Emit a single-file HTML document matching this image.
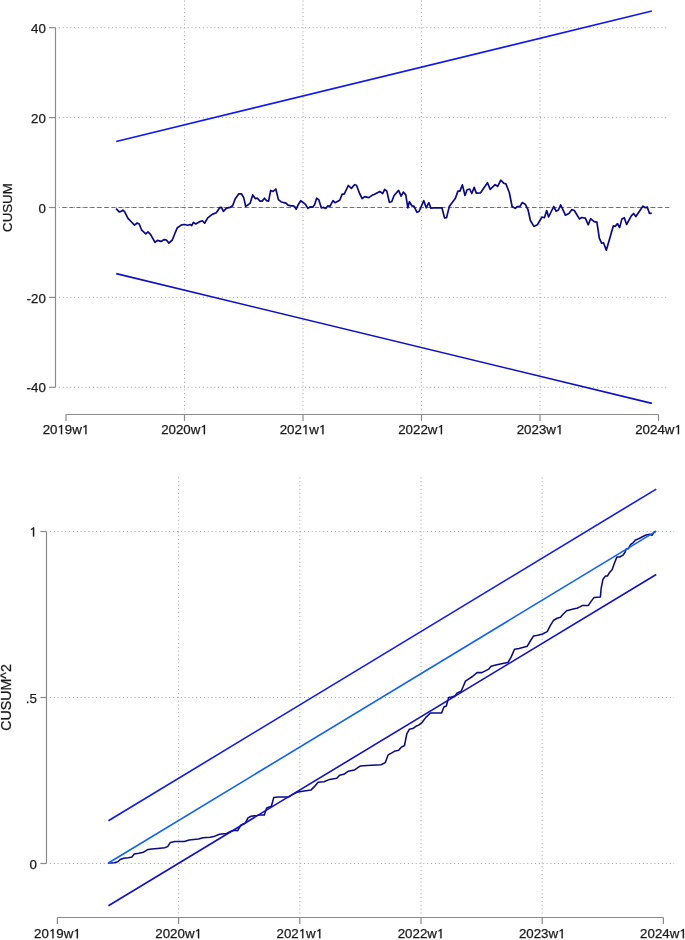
<!DOCTYPE html><html><head><meta charset="utf-8"><style>html,body{margin:0;padding:0;background:#fff;}svg{display:block;will-change:transform;}text{font-family:"Liberation Sans",sans-serif;font-size:13.3px;fill:#1a1a1a;stroke:#1a1a1a;stroke-width:0.25px;}.g1{fill:#1a1a1a;stroke:#1a1a1a;stroke-width:0.2px;}</style></head><body>
<svg width="685" height="940" viewBox="0 0 685 940">
<rect width="685" height="940" fill="#fff"/>
<g stroke="#a0a0a0" stroke-width="1" stroke-dasharray="1 2.85" fill="none"><line x1="184.46" y1="0.56" x2="184.46" y2="411" /><line x1="302.97" y1="0.56" x2="302.97" y2="411" /><line x1="421.48" y1="0.56" x2="421.48" y2="411" /><line x1="539.99" y1="0.56" x2="539.99" y2="411" /><line x1="58.9" y1="27.70" x2="666.2" y2="27.70" stroke-dasharray="1 2.789"/><line x1="58.9" y1="117.60" x2="666.2" y2="117.60" stroke-dasharray="1 2.789"/><line x1="58.9" y1="207.50" x2="666.2" y2="207.50" stroke-dasharray="1 2.789"/><line x1="58.9" y1="297.40" x2="666.2" y2="297.40" stroke-dasharray="1 2.789"/><line x1="58.9" y1="387.30" x2="666.2" y2="387.30" stroke-dasharray="1 2.789"/></g>
<line x1="62.3" y1="207.5" x2="669.2" y2="207.5" stroke="#707070" stroke-width="1.2" stroke-dasharray="4.2 2.81"/>
<g stroke="#8a8a8a" stroke-width="1.2" fill="none" stroke-linecap="butt"><line x1="55.5" y1="27.7" x2="55.5" y2="387.3"/><line x1="49" y1="27.7" x2="55.5" y2="27.7"/><line x1="49" y1="117.6" x2="55.5" y2="117.6"/><line x1="49" y1="207.5" x2="55.5" y2="207.5"/><line x1="49" y1="297.4" x2="55.5" y2="297.4"/><line x1="49" y1="387.3" x2="55.5" y2="387.3"/><line x1="66.0" y1="414.5" x2="658.5" y2="414.5"/><line x1="66.0" y1="414.5" x2="66.0" y2="420.9"/><line x1="184.5" y1="414.5" x2="184.5" y2="420.9"/><line x1="303.0" y1="414.5" x2="303.0" y2="420.9"/><line x1="421.5" y1="414.5" x2="421.5" y2="420.9"/><line x1="540.0" y1="414.5" x2="540.0" y2="420.9"/><line x1="658.5" y1="414.5" x2="658.5" y2="420.9"/></g>
<text x="31.01 38.41" y="32.80">40</text><text x="31.01 38.41" y="122.70">20</text><text x="38.41" y="212.60">0</text><text x="26.58 31.01 38.41" y="302.50">-20</text><text x="26.58 31.01 38.41" y="392.40">-40</text><text x="42.66 50.06 64.85 72.24" y="434.30">209w</text><path class="g1" d="M62.12,434.30 L62.12,424.95 L61.11,424.95 L60.71,425.59 L58.85,426.65 L58.85,427.58 L60.88,426.85 L60.88,434.30Z"/><path class="g1" d="M86.51,434.30 L86.51,424.95 L85.50,424.95 L85.10,425.59 L83.24,426.65 L83.24,427.58 L85.27,426.85 L85.27,434.30Z"/><text x="161.17 168.57 175.96 183.36 190.75" y="434.30">2020w</text><path class="g1" d="M205.02,434.30 L205.02,424.95 L204.01,424.95 L203.61,425.59 L201.75,426.65 L201.75,427.58 L203.78,426.85 L203.78,434.30Z"/><text x="279.68 287.08 294.47 309.26" y="434.30">202w</text><path class="g1" d="M306.53,434.30 L306.53,424.95 L305.52,424.95 L305.12,425.59 L303.26,426.65 L303.26,427.58 L305.30,426.85 L305.30,434.30Z"/><path class="g1" d="M323.53,434.30 L323.53,424.95 L322.52,424.95 L322.12,425.59 L320.26,426.65 L320.26,427.58 L322.29,426.85 L322.29,434.30Z"/><text x="398.19 405.59 412.98 420.38 427.77" y="434.30">2022w</text><path class="g1" d="M442.04,434.30 L442.04,424.95 L441.03,424.95 L440.63,425.59 L438.77,426.65 L438.77,427.58 L440.80,426.85 L440.80,434.30Z"/><text x="516.70 524.10 531.49 538.89 546.28" y="434.30">2023w</text><path class="g1" d="M560.55,434.30 L560.55,424.95 L559.54,424.95 L559.14,425.59 L557.28,426.65 L557.28,427.58 L559.31,426.85 L559.31,434.30Z"/><text x="635.21 642.61 650.00 657.40 664.79" y="434.30">2024w</text><path class="g1" d="M679.06,434.30 L679.06,424.95 L678.05,424.95 L677.65,425.59 L675.79,426.65 L675.79,427.58 L677.82,426.85 L677.82,434.30Z"/><text transform="translate(11.65,207.6) rotate(-90)" text-anchor="middle">CUSUM</text>
<polyline points="116.1,208.7 119.2,211.8 121.2,211.4 122.9,210.2 124.7,211.8 128.0,218.3 131.5,222.0 134.5,225.1 137.2,223.0 139.2,224.0 141.7,230.2 145.8,233.9 148.0,231.8 150.5,234.3 155.0,242.4 157.4,240.4 161.1,241.4 164.2,239.6 166.4,240.0 168.9,243.1 172.3,240.0 175.0,233.2 177.4,227.7 181.5,224.9 184.6,224.5 187.7,225.3 190.3,224.5 191.7,225.7 193.4,222.4 195.8,224.0 199.9,221.6 202.4,220.8 204.6,223.2 207.7,217.9 212.2,214.4 216.3,212.8 219.7,207.7 221.4,207.3 223.4,211.4 226.5,208.1 230.2,207.3 232.6,205.7 235.1,199.1 238.8,193.8 241.4,193.8 243.7,197.6 245.7,206.4 248.2,204.7 250.2,203.1 252.7,194.9 255.3,198.6 257.4,198.2 260.0,201.1 262.1,201.1 264.5,198.2 266.6,200.7 268.6,201.1 270.7,190.4 273.1,191.5 275.8,189.0 278.4,199.6 280.9,201.7 283.9,202.7 286.0,203.1 288.0,205.2 291.1,205.8 293.5,205.8 294.8,206.8 296.2,209.2 298.2,204.7 300.7,200.7 303.4,202.7 305.4,204.3 307.9,208.4 310.5,206.8 312.6,207.2 314.6,204.7 316.6,198.2 318.7,199.6 321.3,207.8 323.8,207.4 325.8,208.4 327.9,205.8 329.9,206.4 333.0,200.7 335.0,202.7 339.7,200.2 342.2,194.1 344.2,194.1 348.3,185.5 351.4,188.4 354.5,184.7 356.5,185.3 359.6,193.5 362.2,198.6 364.7,196.6 368.8,197.6 372.8,194.9 374.1,194.5 379.8,191.5 382.7,193.5 384.7,189.4 386.8,191.1 389.4,202.3 391.7,201.7 394.1,195.5 398.6,190.4 401.1,196.2 403.3,192.1 405.8,194.9 407.8,207.8 409.4,201.7 411.9,205.8 413.9,206.2 417.0,212.3 419.0,211.5 423.8,200.7 426.2,207.8 428.9,202.7 430.9,208.2 433.4,207.8 441.9,207.8 444.6,218.0 446.6,217.6 449.3,206.4 455.4,198.2 457.9,191.1 459.9,191.1 462.4,184.9 465.0,195.5 467.1,189.8 469.7,189.0 471.8,193.5 474.2,187.4 476.3,193.1 480.4,192.9 487.5,182.7 490.2,189.4 495.1,184.7 497.7,186.3 500.8,180.2 503.9,183.3 505.9,183.9 509.3,192.5 512.1,206.5 515.2,208.4 517.5,206.5 519.9,206.5 522.2,202.6 525.2,204.2 528.0,209.6 530.4,220.5 533.9,226.4 537.4,224.8 542.0,217.0 544.4,217.7 546.7,210.5 548.6,217.0 553.7,206.5 556.1,211.2 558.4,210.0 560.7,204.9 565.4,215.2 568.9,213.5 571.9,209.6 574.3,210.5 579.4,218.9 581.8,217.5 585.3,218.2 588.3,224.8 590.6,218.7 594.1,221.7 596.9,222.2 599.3,238.1 601.6,243.2 603.5,242.7 606.3,250.2 613.3,225.9 615.2,226.4 617.5,223.6 619.6,227.6 621.9,218.9 624.3,217.7 626.6,224.5 631.3,215.9 633.6,213.5 635.9,216.6 643.0,206.1 645.3,207.7 647.2,207.0 649.5,213.5 651.8,213.1" fill="none" stroke="#0a0a88" stroke-width="1.7" stroke-linejoin="round"/>
<line x1="116.2" y1="141.5" x2="651.9" y2="11.0" stroke="#1018f8" stroke-width="1.6"/>
<line x1="116.2" y1="273.6" x2="651.9" y2="403.4" stroke="#1010cc" stroke-width="1.6"/>
<g stroke="#a0a0a0" stroke-width="1" stroke-dasharray="1 2.85" fill="none"><line x1="178.60" y1="477.4" x2="178.60" y2="914.8" /><line x1="299.80" y1="477.4" x2="299.80" y2="914.8" /><line x1="421.00" y1="477.4" x2="421.00" y2="914.8" /><line x1="542.20" y1="477.4" x2="542.20" y2="914.8" /><line x1="49.9" y1="531.50" x2="674.0" y2="531.50" /><line x1="49.9" y1="697.50" x2="674.0" y2="697.50" /><line x1="49.9" y1="863.50" x2="674.0" y2="863.50" /></g>
<g stroke="#8a8a8a" stroke-width="1.2" fill="none"><line x1="46.5" y1="531.5" x2="46.5" y2="863.5"/><line x1="40.4" y1="531.5" x2="46.5" y2="531.5"/><line x1="40.4" y1="697.5" x2="46.5" y2="697.5"/><line x1="40.4" y1="863.5" x2="46.5" y2="863.5"/><line x1="57.4" y1="917.5" x2="663.4" y2="917.5"/><line x1="57.4" y1="917.5" x2="57.4" y2="923.9"/><line x1="178.6" y1="917.5" x2="178.6" y2="923.9"/><line x1="299.8" y1="917.5" x2="299.8" y2="923.9"/><line x1="421.0" y1="917.5" x2="421.0" y2="923.9"/><line x1="542.2" y1="917.5" x2="542.2" y2="923.9"/><line x1="663.4" y1="917.5" x2="663.4" y2="923.9"/></g>
<path class="g1" d="M34.17,536.60 L34.17,527.25 L33.16,527.25 L32.76,527.89 L30.90,528.95 L30.90,529.88 L32.94,529.15 L32.94,536.60Z"/><text x="25.81 29.51" y="702.60">.5</text><text x="29.51" y="868.60">0</text><text x="34.11 41.51 56.30 63.69" y="938.30">209w</text><path class="g1" d="M53.57,938.30 L53.57,928.95 L52.56,928.95 L52.16,929.59 L50.30,930.65 L50.30,931.58 L52.33,930.85 L52.33,938.30Z"/><path class="g1" d="M77.96,938.30 L77.96,928.95 L76.95,928.95 L76.55,929.59 L74.69,930.65 L74.69,931.58 L76.72,930.85 L76.72,938.30Z"/><text x="155.31 162.71 170.10 177.50 184.89" y="938.30">2020w</text><path class="g1" d="M199.16,938.30 L199.16,928.95 L198.15,928.95 L197.75,929.59 L195.89,930.65 L195.89,931.58 L197.92,930.85 L197.92,938.30Z"/><text x="276.51 283.91 291.30 306.09" y="938.30">202w</text><path class="g1" d="M303.36,938.30 L303.36,928.95 L302.35,928.95 L301.95,929.59 L300.09,930.65 L300.09,931.58 L302.13,930.85 L302.13,938.30Z"/><path class="g1" d="M320.36,938.30 L320.36,928.95 L319.35,928.95 L318.95,929.59 L317.09,930.65 L317.09,931.58 L319.12,930.85 L319.12,938.30Z"/><text x="397.71 405.11 412.50 419.90 427.29" y="938.30">2022w</text><path class="g1" d="M441.56,938.30 L441.56,928.95 L440.55,928.95 L440.15,929.59 L438.29,930.65 L438.29,931.58 L440.32,930.85 L440.32,938.30Z"/><text x="518.91 526.31 533.70 541.10 548.49" y="938.30">2023w</text><path class="g1" d="M562.76,938.30 L562.76,928.95 L561.75,928.95 L561.35,929.59 L559.49,930.65 L559.49,931.58 L561.52,930.85 L561.52,938.30Z"/><text x="640.11 647.51 654.90 662.30 669.69" y="938.30">2024w</text><path class="g1" d="M683.96,938.30 L683.96,928.95 L682.95,928.95 L682.55,929.59 L680.69,930.65 L680.69,931.58 L682.72,930.85 L682.72,938.30Z"/><text transform="translate(11.0,697.5) rotate(-90)" text-anchor="middle" style="font-size:14.2px">CUSUM^2</text>
<polyline points="108.5,863.0 114.3,862.7 117.8,861.8 120.2,859.5 123.7,858.3 128.4,857.8 131.9,856.9 134.2,854.1 138.9,853.2 143.5,852.2 148.2,849.4 151.7,849.0 157.6,848.5 164.6,847.8 167.6,846.6 170.4,842.4 175.1,841.5 184.4,841.5 189.1,840.1 198.4,839.1 203.1,837.7 210.1,837.3 213.6,836.6 219.5,834.2 226.5,833.5 231.1,831.2 234.6,830.3 237.7,830.7 241.0,824.9 245.2,823.3 248.0,817.9 251.0,816.3 256.8,815.5 259.7,814.9 264.3,814.9 266.7,807.9 271.4,806.3 273.7,797.6 278.4,796.9 288.9,796.9 292.4,794.6 297.0,792.3 304.1,791.1 311.1,789.9 314.6,786.4 318.1,782.2 323.9,781.8 329.7,779.4 336.8,778.3 339.6,775.2 343.8,774.3 348.4,771.2 354.3,770.1 357.8,767.7 360.1,766.1 367.1,765.4 381.1,764.7 385.3,762.6 388.1,754.9 392.3,752.6 395.2,750.9 398.7,750.2 401.0,747.4 404.5,745.5 406.8,733.9 409.3,729.3 412.8,728.6 415.9,726.3 418.7,725.1 422.2,722.3 425.7,717.6 430.4,713.0 441.6,713.0 443.9,706.9 446.3,706.0 448.6,697.6 451.4,697.1 454.9,695.9 457.2,692.9 461.2,691.2 465.4,681.2 468.9,678.9 472.4,676.5 477.1,672.6 481.8,672.6 485.3,670.9 488.8,669.1 491.1,666.3 495.8,665.1 500.4,663.9 503.9,663.2 507.9,662.5 511.0,657.4 514.5,649.2 519.1,648.5 522.6,647.6 527.3,646.2 530.3,641.0 533.6,635.9 537.8,635.2 542.5,634.0 547.2,631.6 550.4,625.3 553.7,620.2 557.1,618.3 560.5,617.2 562.8,614.5 566.6,610.7 571.3,609.6 574.2,608.8 577.0,608.3 579.9,606.9 582.7,605.4 588.4,605.4 590.9,601.6 594.1,597.4 600.4,596.9 601.1,588.7 603.0,579.2 605.5,576.0 607.4,576.0 609.8,572.2 612.1,569.7 614.4,563.3 616.9,557.0 619.7,557.0 623.1,555.1 625.0,552.3 626.4,548.8 628.3,548.8 630.7,544.3 633.0,542.8 635.5,539.9 638.7,538.8 642.5,536.8 645.4,535.3 649.5,534.2 652.2,535.2 654.2,531.8 655.6,531.5" fill="none" stroke="#0a0a88" stroke-width="1.55" stroke-linejoin="round" stroke-linecap="round"/>
<line x1="108.4" y1="820.8" x2="656.2" y2="489.1" stroke="#1018f8" stroke-width="1.6"/>
<line x1="108.4" y1="905.7" x2="656.2" y2="574.5" stroke="#1010cc" stroke-width="1.6"/>
<line x1="108.4" y1="863.0" x2="655.8" y2="531.4" stroke="#0e62f4" stroke-width="1.6"/>
</svg></body></html>
